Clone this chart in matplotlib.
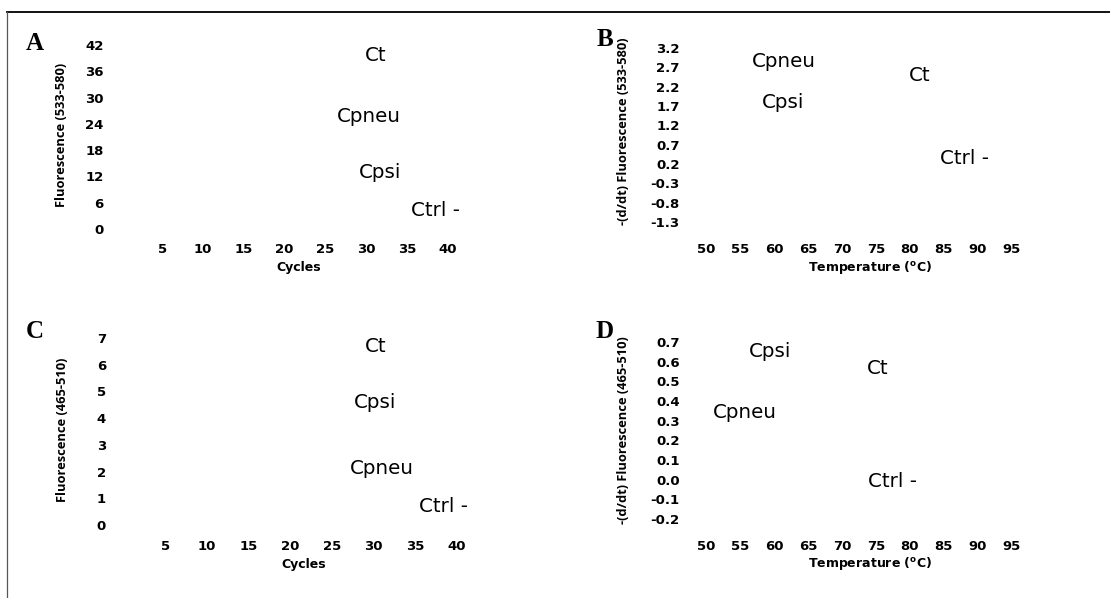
import matplotlib
matplotlib.use("Agg")
import matplotlib.pyplot as plt
from matplotlib.lines import Line2D

W, H = 1110, 598

# ---- data ----
cycles_ticks = [5, 10, 15, 20, 25, 30, 35, 40]
temp_ticks = [50, 55, 60, 65, 70, 75, 80, 85, 90, 95]

a_yticks = [0, 6, 12, 18, 24, 30, 36, 42]
a_names = ["Ct", "Cpneu", "Cpsi", "Ctrl -"]
a_x = [31.1, 30.3, 31.7, 38.5]
a_y = [39.5, 25.6, 13.0, 4.3]

b_yticks = [-1.3, -0.8, -0.3, 0.2, 0.7, 1.2, 1.7, 2.2, 2.7, 3.2]
b_names = ["Cpneu", "Ct", "Cpsi", "Ctrl -"]
b_x = [61.4, 81.5, 61.25, 88.0]
b_y = [2.84, 2.50, 1.78, 0.33]

c_yticks = [0, 1, 2, 3, 4, 5, 6, 7]
c_names = ["Ct", "Cpsi", "Cpneu", "Ctrl -"]
c_x = [30.3, 30.2, 31.0, 38.5]
c_y = [6.7, 4.6, 2.1, 0.71]

d_yticks = [-0.2, -0.1, 0.0, 0.1, 0.2, 0.3, 0.4, 0.5, 0.6, 0.7]
d_names = ["Cpsi", "Ct", "Cpneu", "Ctrl -"]
d_x = [59.4, 75.2, 55.6, 77.5]
d_y = [0.654, 0.563, 0.344, -0.01]

fig = plt.figure(figsize=(W / 100, H / 100), dpi=100)
fig.patch.set_facecolor("white")

TICKFONT = dict(family="DejaVu Sans", weight="bold", size=9.5)
XLABELFONT = dict(family="DejaVu Sans", weight="bold", size=9)
YLABELFONT = dict(family="Open Sans", weight="bold", size=9.3)
NAMEFONT = dict(family="DejaVu Sans", size=14.3)


def px_axes(left, right, top, bottom):
    return fig.add_axes([left / W, 1 - bottom / H, (right - left) / W, (bottom - top) / H])


def panel(rect, xlim, ylim, xticks, yticks, yfmt, xlabel, ylabel, xl_pos, yl_pos,
          xpad, ypad, names, xs, ys):
    ax = px_axes(*rect)
    ax.set_xlim(*xlim)
    ax.set_ylim(*ylim)
    for s in ax.spines.values():
        s.set_visible(False)
    ax.set_facecolor("none")
    ax.set_xticks(xticks)
    ax.set_yticks(yticks)
    ax.set_xticklabels([str(t) for t in xticks], **TICKFONT)
    ax.set_yticklabels([yfmt.format(t) for t in yticks], **TICKFONT)
    ax.tick_params(axis="both", length=0)
    ax.tick_params(axis="x", pad=xpad)
    ax.tick_params(axis="y", pad=ypad)
    ax.set_xlabel(xlabel, **XLABELFONT)
    ax.set_ylabel(ylabel, **YLABELFONT)
    ax.xaxis.set_label_coords(*xl_pos)
    ax.yaxis.set_label_coords(*yl_pos)
    ax.xaxis.label.set_va("center")
    ax.yaxis.label.set_va("center")
    for n, x, y in zip(names, xs, ys):
        ax.text(x, y, n, ha="center", va="center", clip_on=False, **NAMEFONT)
    return ax


# Panel A
panel((121.3, 464.4, 45, 229), (0, 42), (0, 42), cycles_ticks, a_yticks, "{:d}",
      "Cycles", "Fluorescence (533-580)", (0.517, -0.207), (-0.174, 0.511),
      10.3, 12.7, a_names, a_x, a_y)
# Panel B
panel((692.9, 1025.0, 48, 222), (48, 97), (-1.3, 3.2), temp_ticks, b_yticks, "{:.1f}",
      r"Temperature ($^\mathregular{o}$C)", "-(d/dt) Fluorescence (533-580)",
      (0.532, -0.259), (-0.208, 0.523), 14.8, 9.6, b_names, b_x, b_y)
# Panel C
panel((123.6, 473.1, 338, 525), (0, 42), (0, 7), cycles_ticks, c_yticks, "{:d}",
      "Cycles", "Fluorescence (465-510)", (0.516, -0.209), (-0.175, 0.508),
      10.8, 12.7, c_names, c_x, c_y)
# Panel D
panel((692.9, 1025.0, 342, 519), (48, 97), (-0.2, 0.7), temp_ticks, d_yticks, "{:.1f}",
      r"Temperature ($^\mathregular{o}$C)", "-(d/dt) Fluorescence (465-510)",
      (0.532, -0.254), (-0.208, 0.503), 14.8, 9.6, d_names, d_x, d_y)

# panel letters
for letter, (x, y) in zip("ABCD", [(35, 43), (604.8, 40), (35, 332), (604.8, 332)]):
    fig.text(x / W, 1 - y / H, letter, ha="center", va="center",
             family="Liberation Serif", weight="bold", size=18)

# frame lines (top and left)
fig.add_artist(Line2D([7 / W, 1], [1 - 11.5 / H, 1 - 11.5 / H], color="black", lw=1.3,
                      transform=fig.transFigure))
fig.add_artist(Line2D([7 / W, 7 / W], [1 - 11.5 / H, 0], color="#555555", lw=0.9,
                      transform=fig.transFigure))

fig.savefig("out.png", dpi=100)
